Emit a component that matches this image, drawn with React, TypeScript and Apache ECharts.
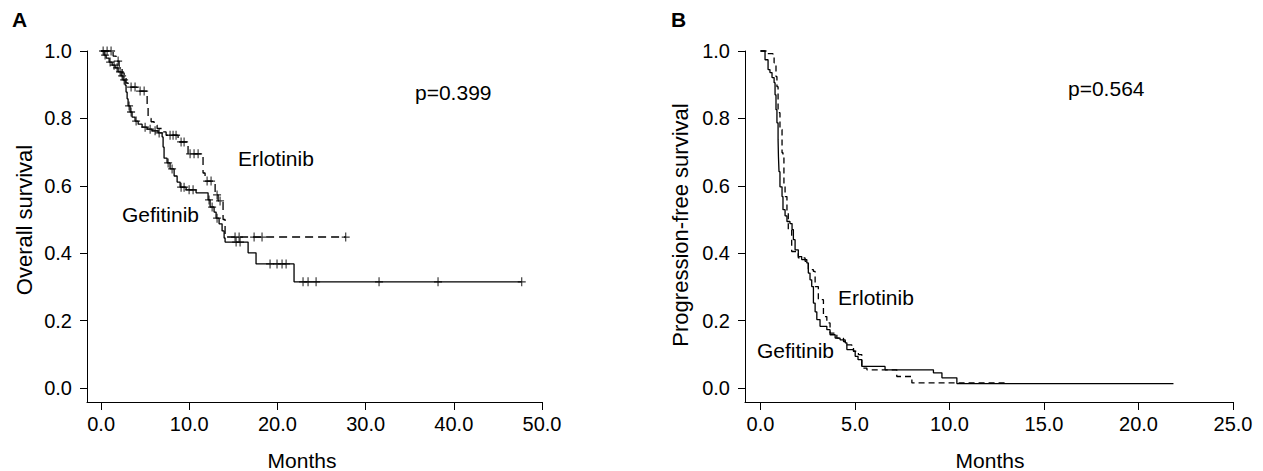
import React, { useEffect, useRef } from "react";
import * as echarts from "echarts";

const FONT = "'Liberation Sans', Arial, sans-serif";

// Panel A: overall survival (Kaplan-Meier step points: time in months, survival after the step)
const osGefTime = [0, 0.34, 0.57, 0.91, 1.25, 1.59, 1.93, 2.27, 2.49, 2.72, 2.83, 2.95, 3.06, 3.29, 3.51, 3.85, 4.2, 4.65, 5.22, 5.78, 6.46, 6.92, 7.03, 7.14, 7.48, 7.82, 8.28, 8.62, 8.96, 9.64, 10.77, 12.13, 12.36, 12.81, 13.04, 13.38, 13.72, 13.95, 14.06, 16.67, 17.57, 21.88, 47.7];
const osGefSurv = [1.0, 0.988, 0.979, 0.967, 0.958, 0.95, 0.938, 0.926, 0.914, 0.899, 0.878, 0.858, 0.837, 0.819, 0.804, 0.792, 0.783, 0.774, 0.768, 0.763, 0.757, 0.745, 0.715, 0.682, 0.668, 0.65, 0.629, 0.611, 0.596, 0.588, 0.579, 0.558, 0.537, 0.522, 0.504, 0.487, 0.466, 0.445, 0.433, 0.401, 0.368, 0.315, 0.315];
const osGefCensored = [0.45, 1.02, 1.47, 1.81, 2.15, 2.38, 2.61, 3.17, 3.4, 3.97, 4.99, 5.56, 6.12, 6.58, 7.6, 8.05, 9.07, 9.41, 9.98, 10.43, 12.24, 12.59, 13.15, 15.31, 15.76, 19.16, 19.95, 20.52, 20.98, 22.9, 23.47, 24.38, 31.52, 38.21, 47.7];

const osErlTime = [0, 1.36, 1.7, 2.04, 2.38, 2.61, 2.83, 3.06, 4.08, 5.22, 5.33, 5.67, 6.01, 6.35, 6.92, 7.37, 8.73, 9.86, 11.56, 11.79, 12.93, 13.27, 13.83, 14.06, 27.74];
const osErlSurv = [1.0, 0.985, 0.97, 0.955, 0.935, 0.92, 0.905, 0.893, 0.881, 0.84, 0.8, 0.79, 0.78, 0.77, 0.76, 0.75, 0.73, 0.695, 0.638, 0.614, 0.573, 0.555, 0.5, 0.448, 0.448];
const osErlCensored = [0.23, 0.68, 1.13, 1.93, 3.4, 3.85, 4.42, 4.88, 7.82, 8.16, 8.5, 9.07, 9.41, 10.09, 10.54, 11.0, 12.02, 12.47, 13.15, 13.49, 15.19, 15.65, 17.35, 18.25, 27.74];

// Panel B: progression-free survival
const pfsGefTime = [0, 0.24, 0.4, 0.5, 0.61, 0.72, 0.77, 0.82, 0.87, 0.93, 0.95, 0.98, 1.03, 1.14, 1.19, 1.3, 1.4, 1.56, 1.67, 1.74, 1.83, 2.0, 2.18, 2.45, 2.53, 2.62, 2.71, 2.8, 2.89, 2.98, 3.15, 3.51, 3.68, 3.95, 4.21, 4.48, 4.57, 4.92, 5.01, 5.16, 5.36, 6.59, 9.15, 9.6, 10.39, 21.85];
const pfsGefSurv = [1.0, 0.974, 0.945, 0.936, 0.921, 0.906, 0.87, 0.826, 0.787, 0.737, 0.686, 0.642, 0.597, 0.568, 0.529, 0.511, 0.494, 0.488, 0.47, 0.44, 0.41, 0.39, 0.381, 0.371, 0.341, 0.321, 0.301, 0.252, 0.226, 0.203, 0.183, 0.173, 0.158, 0.148, 0.143, 0.134, 0.114, 0.109, 0.094, 0.084, 0.064, 0.054, 0.045, 0.03, 0.013, 0.013];
const pfsGefCensored = [21.85];

const pfsErlTime = [0, 0.34, 0.66, 0.72, 0.82, 0.87, 0.93, 1.03, 1.14, 1.19, 1.24, 1.3, 1.4, 1.47, 1.65, 2.0, 2.36, 2.53, 2.8, 2.89, 3.06, 3.33, 3.51, 3.68, 4.04, 4.39, 4.57, 4.83, 4.92, 5.18, 5.36, 5.63, 7.21, 8.01, 12.95];
const pfsErlSurv = [1.0, 0.992, 0.989, 0.965, 0.924, 0.894, 0.817, 0.767, 0.698, 0.692, 0.597, 0.568, 0.52, 0.47, 0.405, 0.386, 0.376, 0.351, 0.346, 0.301, 0.262, 0.212, 0.193, 0.163, 0.148, 0.138, 0.128, 0.123, 0.109, 0.099, 0.059, 0.054, 0.034, 0.015, 0.015];

const yTicks = [0, 0.2, 0.4, 0.6, 0.8, 1.0];
const osXTicks = [0, 10, 20, 30, 40, 50];
const pfsXTicks = [0, 5, 10, 15, 20, 25];

function zip(t: number[], s: number[]) {
  const n = Math.min(t.length, s.length);
  const out: number[][] = [];
  for (let i = 0; i < n; i++) out.push([t[i], s[i]]);
  return out;
}
function levelAt(t: number[], s: number[], x: number) {
  let v = s[0];
  for (let i = 0; i < Math.min(t.length, s.length); i++) if (t[i] <= x) v = s[i];
  return v;
}
function censorPoints(t: number[], s: number[], c: number[]) {
  return c.map((x) => [x, levelAt(t, s, x)]);
}

const PLUS = "path://M0,5L10,5M5,0L5,10";
const BAR = "path://M0,0L0,10";

function xAxisCfg(gridIndex: number, min: number, max: number, ticks: number[]) {
  return {
    type: "value", gridIndex, min, max,
    axisLine: { show: true, onZero: false, lineStyle: { color: "#000", width: 1 } },
    axisTick: { show: true, length: 8, customValues: ticks, lineStyle: { color: "#000", width: 1 } },
    axisLabel: { customValues: ticks, formatter: (v: number) => v.toFixed(1), margin: 12, fontSize: 20, color: "#000", fontFamily: FONT },
    splitLine: { show: false },
  };
}
function yAxisCfg(gridIndex: number) {
  return {
    type: "value", gridIndex, min: -0.0416, max: 1,
    axisLine: { show: true, onZero: false, lineStyle: { color: "#000", width: 1 } },
    axisTick: { show: true, length: 7, customValues: yTicks, lineStyle: { color: "#000", width: 1 } },
    axisLabel: { customValues: yTicks, formatter: (v: number) => v.toFixed(1), margin: 15, fontSize: 20, color: "#000", fontFamily: FONT },
    splitLine: { show: false },
  };
}
function stepLine(idx: number, data: number[][], dashed: number[] | null) {
  return {
    type: "line", xAxisIndex: idx, yAxisIndex: idx, data, step: "end", showSymbol: false, symbol: "none",
    lineStyle: { color: "#000", width: 1.3, type: dashed ? dashed : "solid" }, clip: false, silent: true,
  };
}
function censorSeries(idx: number, data: number[][], symbol: string, size: number[], offset: number[]) {
  return {
    type: "scatter", xAxisIndex: idx, yAxisIndex: idx, data, symbol, symbolSize: size, symbolOffset: offset,
    itemStyle: { color: "rgba(0,0,0,0)", borderColor: "#000", borderWidth: 1.2 }, clip: false, silent: true,
  };
}
function label(text: string, x: number, y: number, size: number, opts: any = {}) {
  return {
    type: "text", x, y, rotation: opts.rotation || 0,
    style: {
      text, font: `${opts.bold ? "bold " : ""}${size}px ${FONT}`, fill: "#000",
      textAlign: opts.align || "left", textVerticalAlign: "middle",
    },
  };
}

export default function App() {
  const ref = useRef<HTMLDivElement>(null);
  useEffect(() => {
    document.body.style.margin = "0";
    const chart = echarts.init(ref.current!, null, { renderer: "svg" });
    chart.setOption({
      animation: false,
      grid: [
        { left: 87, top: 51, width: 455, height: 351 },
        { left: 745, top: 51, width: 488, height: 351 },
      ],
      xAxis: [xAxisCfg(0, -1.6, 50, osXTicks), xAxisCfg(1, -0.82, 25, pfsXTicks)],
      yAxis: [yAxisCfg(0), yAxisCfg(1)],
      series: [
        stepLine(0, zip(osGefTime, osGefSurv), null),
        stepLine(0, zip(osErlTime, osErlSurv), [8, 5]),
        censorSeries(0, censorPoints(osGefTime, osGefSurv, osGefCensored), PLUS, [8, 9], [0, 0]),
        censorSeries(0, censorPoints(osErlTime, osErlSurv, osErlCensored), PLUS, [8, 9], [0, 0]),
        stepLine(1, zip(pfsGefTime, pfsGefSurv), null),
        stepLine(1, zip(pfsErlTime, pfsErlSurv), [6, 4]),
        censorSeries(1, censorPoints(pfsGefTime, pfsGefSurv, pfsGefCensored), BAR, [1, 4], [0, 2]),
      ],
      graphic: [
        label("A", 12, 19, 21, { bold: true }),
        label("B", 671, 19, 21, { bold: true }),
        label("p=0.399", 415, 92, 21),
        label("p=0.564", 1068, 88, 21),
        label("Erlotinib", 238, 158, 21),
        label("Gefitinib", 122, 214, 21),
        label("Erlotinib", 838, 297, 21),
        label("Gefitinib", 757, 350, 21),
        label("Months", 302, 460, 21, { align: "center" }),
        label("Months", 990, 460, 21, { align: "center" }),
        label("Overall survival", 24, 220, 22, { align: "center", rotation: Math.PI / 2 }),
        label("Progression-free survival", 680, 225, 22, { align: "center", rotation: Math.PI / 2 }),
      ],
    });
    return () => chart.dispose();
  }, []);
  return <div ref={ref} style={{ width: 1263, height: 471 }} />;
}
